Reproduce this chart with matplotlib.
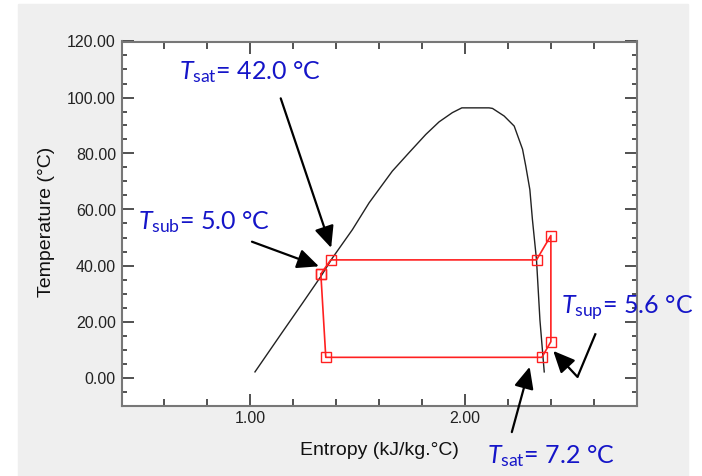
import matplotlib
matplotlib.use("Agg")
import matplotlib.pyplot as plt
from matplotlib.patches import Rectangle
from matplotlib.ticker import MultipleLocator, FixedLocator, FormatStrFormatter

plt.rcParams['font.family'] = ['Liberation Sans', 'DejaVu Sans']
plt.rcParams['mathtext.fontset'] = 'custom'
plt.rcParams['mathtext.rm'] = 'Lato'
plt.rcParams['mathtext.it'] = 'Lato:italic'

# Saturation dome (entropy kJ/kg.°C, temperature °C)
dome_s = [1.022, 1.146, 1.243, 1.329, 1.383, 1.476, 1.554, 1.662, 1.740, 1.818,
          1.880, 1.942, 1.986, 2.113, 2.129, 2.183, 2.230, 2.269, 2.284, 2.303,
          2.315, 2.334, 2.350, 2.370]
dome_T = [2.0, 15.8, 26.5, 36.1, 42.7, 52.8, 62.4, 73.7, 80.3, 86.8,
          91.3, 94.6, 96.3, 96.3, 96.1, 93.4, 89.8, 81.5, 75.5, 67.1,
          56.4, 42.0, 20.5, 2.0]

# Refrigeration cycle state points (closed loop)
cycle_s = [1.329, 1.375, 2.334, 2.401, 2.401, 2.359, 1.352, 1.329]
cycle_T = [37.0, 42.0, 42.0, 50.7, 12.8, 7.2, 7.2, 37.0]

# Annotation labels
label_sat_high = r"$T_{\mathrm{sat}}$= 42.0 °C"
label_sub = r"$T_{\mathrm{sub}}$= 5.0 °C"
label_sup = r"$T_{\mathrm{sup}}$= 5.6 °C"
label_sat_low = r"$T_{\mathrm{sat}}$= 7.2 °C"

W, H = 702, 476
fig = plt.figure(figsize=(W / 100, H / 100), dpi=100, facecolor='white')
fig.patches.append(Rectangle((18 / W, 0), (688 - 18) / W, (476 - 4) / H,
                             transform=fig.transFigure, color='#efefef', zorder=-10))

ax = fig.add_axes([121.5 / W, (H - 405.5) / H, 515 / W, 364 / H])
ax.set_facecolor('white')

ax.plot(dome_s, dome_T, color='#222222', lw=1.0)
ax.plot(cycle_s, cycle_T, color='#ff2020', lw=1.2, marker='s', markersize=6.5,
        mfc='none', mec='#ff2020', mew=1.0)

ax.set_xlim(0.4, 2.8)
ax.set_ylim(-10, 120)
ax.xaxis.set_major_locator(FixedLocator([1.0, 2.0]))
ax.xaxis.set_minor_locator(FixedLocator([0.6, 0.8, 1.2, 1.4, 1.6, 1.8, 2.2, 2.4, 2.6]))
ax.yaxis.set_major_locator(FixedLocator([0, 20, 40, 60, 80, 100, 120]))
ax.yaxis.set_minor_locator(MultipleLocator(5))
ax.xaxis.set_major_formatter(FormatStrFormatter('%.2f'))
ax.yaxis.set_major_formatter(FormatStrFormatter('%.2f'))

ax.tick_params(which='both', direction='in', top=True, right=True, color='#333333',
               width=1.2, labelsize=11.5, labelcolor='#222222')
ax.tick_params(which='major', length=8.6, pad=4)
ax.tick_params(axis='y', which='minor', length=3.6)
ax.tick_params(axis='x', which='minor', length=5)
for sp in ax.spines.values():
    sp.set_color('#777777')
    sp.set_linewidth(1.5)

ax.set_xlabel('Entropy (kJ/kg.°C)', fontsize=14, color='#111111')
ax.set_ylabel('Temperature (°C)', fontsize=14, color='#111111')
ax.xaxis.set_label_coords(0.5, -0.1225)
ax.xaxis.label.set_va('center')
ax.yaxis.set_label_coords(-0.1447, 0.504)
ax.yaxis.label.set_va('center')

tcol = '#1515c8'
tkw = dict(color=tcol, fontsize=18, family=['Lato', 'DejaVu Sans'], ha='left',
           va='baseline', clip_on=False)
ax.text(0.668, 106.6, label_sat_high, **tkw)
ax.text(0.477, 53.0, label_sub, **tkw)
ax.text(2.447, 22.6, label_sup, **tkw)
ax.text(2.104, -30.4, label_sat_low, **tkw)

akw = dict(arrowstyle='-|>,head_length=1.1,head_width=0.5', color='black', lw=1.6,
           mutation_scale=12, shrinkA=0, shrinkB=0)
ax.annotate('', xy=(1.377, 46.3), xytext=(1.142, 99.7), arrowprops=akw,
            annotation_clip=False)
ax.annotate('', xy=(1.320, 39.7), xytext=(1.008, 48.5), arrowprops=akw,
            annotation_clip=False)
ax.annotate('', xy=(2.302, 3.8), xytext=(2.219, -19.5), arrowprops=akw,
            annotation_clip=False)
ax.plot([2.61, 2.525], [15.8, 0.2], color='black', lw=1.6, clip_on=False,
        solid_capstyle='butt')
ax.annotate('', xy=(2.412, 9.5), xytext=(2.525, 0.2), arrowprops=akw,
            annotation_clip=False)

fig.savefig('out.png', dpi=100, facecolor='white')
